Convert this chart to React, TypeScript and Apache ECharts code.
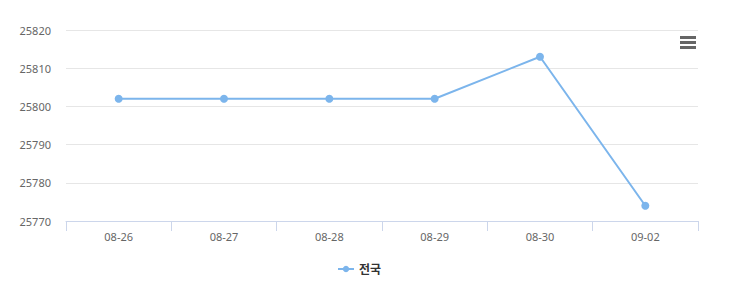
import React, { useEffect, useRef } from "react";
import * as echarts from "echarts";

const categories = ["08-26", "08-27", "08-28", "08-29", "08-30", "09-02"];
const seriesName = "전국";
const values = [25802, 25802, 25802, 25802, 25813, 25774];
const yMin = 25770;
const yMax = 25820;
const yInterval = 10;

export default function App() {
  const ref = useRef<HTMLDivElement>(null);
  useEffect(() => {
    if (!ref.current) return;
    const chart = echarts.init(ref.current, undefined, { renderer: "svg" });
    const font = "'Noto Sans', 'Noto Sans CJK KR', sans-serif";
    chart.setOption({
      animation: false,
      backgroundColor: "#ffffff",
      textStyle: { fontFamily: font },
      grid: { left: 66, right: 45, top: 30, bottom: 67, containLabel: false },
      legend: {
        bottom: 8,
        left: 332,
        itemWidth: 16,
        itemHeight: 8,
        itemGap: 20,
        textStyle: { color: "#333333", fontSize: 12, fontWeight: "bold", fontFamily: font },
        data: [seriesName],
      },
      xAxis: {
        type: "category",
        data: categories,
        boundaryGap: true,
        axisLine: { show: true, lineStyle: { color: "#ccd6eb", width: 1 } },
        axisTick: { show: true, interval: 0, length: 10, lineStyle: { color: "#ccd6eb" } },
        axisLabel: { color: "#666666", fontSize: 11, margin: 10, fontFamily: font },
        splitLine: { show: false },
      },
      yAxis: {
        type: "value",
        min: yMin,
        max: yMax,
        interval: yInterval,
        axisLine: { show: false },
        axisTick: { show: false },
        axisLabel: {
          color: "#666666",
          fontSize: 11,
          margin: 15,
          fontFamily: font,
          formatter: (v: number) => String(v),
        },
        splitLine: { show: true, lineStyle: { color: "#e6e6e6", width: 1 } },
      },
      series: [
        {
          name: seriesName,
          type: "line",
          data: values,
          symbol: "circle",
          symbolSize: 8,
          itemStyle: { color: "#7cb5ec" },
          lineStyle: { color: "#7cb5ec", width: 2 },
        },
      ],
      graphic: [
        { type: "rect", left: 680, top: 36, shape: { width: 16, height: 3 }, style: { fill: "#666666" } },
        { type: "rect", left: 680, top: 41, shape: { width: 16, height: 3 }, style: { fill: "#666666" } },
        { type: "rect", left: 680, top: 46, shape: { width: 16, height: 3 }, style: { fill: "#666666" } },
      ],
    });
    return () => chart.dispose();
  }, []);
  return (
    <div
      ref={ref}
      style={{ position: "fixed", left: 0, top: 0, width: 743, height: 288 }}
    />
  );
}
